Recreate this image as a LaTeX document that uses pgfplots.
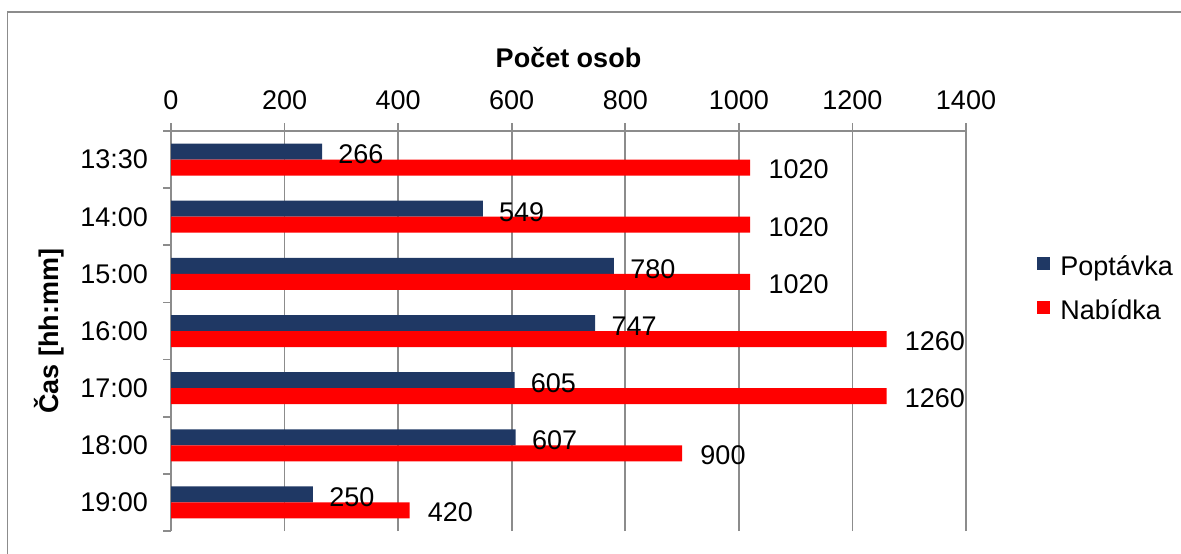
\documentclass[border=0pt]{standalone}
\usepackage{fontspec}
\setmainfont{Liberation Sans}
\usepackage{pgfplots}
\pgfplotsset{compat=1.18}
\definecolor{navy}{HTML}{1F3864}
\definecolor{gridgray}{HTML}{8C8C8C}
\begin{document}
\begin{tikzpicture}[x=1pt,y=1pt]
\useasboundingbox (0,0) rectangle (590.5,276.5);
\draw[gridgray, line width=0.8pt] (3.8,-5) -- (3.8,270.35) -- (600,270.35);
\begin{axis}[
 at={(85.5pt,11pt)}, anchor=south west,
 width=397.5pt, height=200pt, scale only axis,
 xbar, bar width=8pt,
 xmin=0, xmax=1400, ymin=-0.5, ymax=6.5,
 axis x line*=top, axis y line*=left,
 axis line style={gridgray, line width=0.8pt},
 xtick={0,200,...,1400},
 xmajorgrids, grid style={gridgray, line width=0.8pt},
 ytick={-0.5,0.5,1.5,2.5,3.5,4.5,5.5,6.5},
 yticklabels={19:00,18:00,17:00,16:00,15:00,14:00,13:30,{}},
 yticklabel style={yshift=14.2857pt, xshift=-4pt},
 xticklabel style={yshift=3pt},
 tick align=outside,
 major tick length=4pt,
 tick style={gridgray, line width=0.8pt},
 /pgf/number format/assume math mode=true,
 /pgf/number format/1000 sep={},
 every tick label/.append style={font=\fontsize{13.5}{15}\selectfont, text=black},
 xlabel={\textbf{Počet osob}},
 ylabel={\textbf{Čas [hh:mm]}},
 xlabel style={yshift=4.5pt},
 ylabel style={yshift=1.5pt},
 label style={font=\fontsize{13.5}{15}\selectfont},
 legend style={at={(axis description cs:1.0893,0.605)}, anchor=west, draw=none, fill=none,
   font=\fontsize{13.5}{15}\selectfont, row sep=7pt, column sep=3pt, inner sep=0pt},
 legend cell align=left,
 legend image code/.code={\fill[#1] (0pt,-1.5pt) rectangle (6.5pt,5pt);},
 clip=false,
]
\addplot[fill=navy, draw=none, bar shift=4pt, nodes near coords,
  nodes near coords style={anchor=west, inner sep=0pt, xshift=8pt, yshift=-1.5pt, text=black, font=\fontsize{13.5}{15}\selectfont}]
  coordinates {(266,6) (549,5) (780,4) (747,3) (605,2) (607,1) (250,0)};
\addlegendentry{Poptávka}
\addplot[fill=red, draw=none, bar shift=-4pt, nodes near coords,
  nodes near coords style={anchor=west, inner sep=0pt, xshift=9pt, yshift=-1pt, text=black, font=\fontsize{13.5}{15}\selectfont}]
  coordinates {(1020,6) (1020,5) (1020,4) (1260,3) (1260,2) (900,1) (420,0)};
\addlegendentry{Nabídka}
\end{axis}
\end{tikzpicture}
\end{document}
